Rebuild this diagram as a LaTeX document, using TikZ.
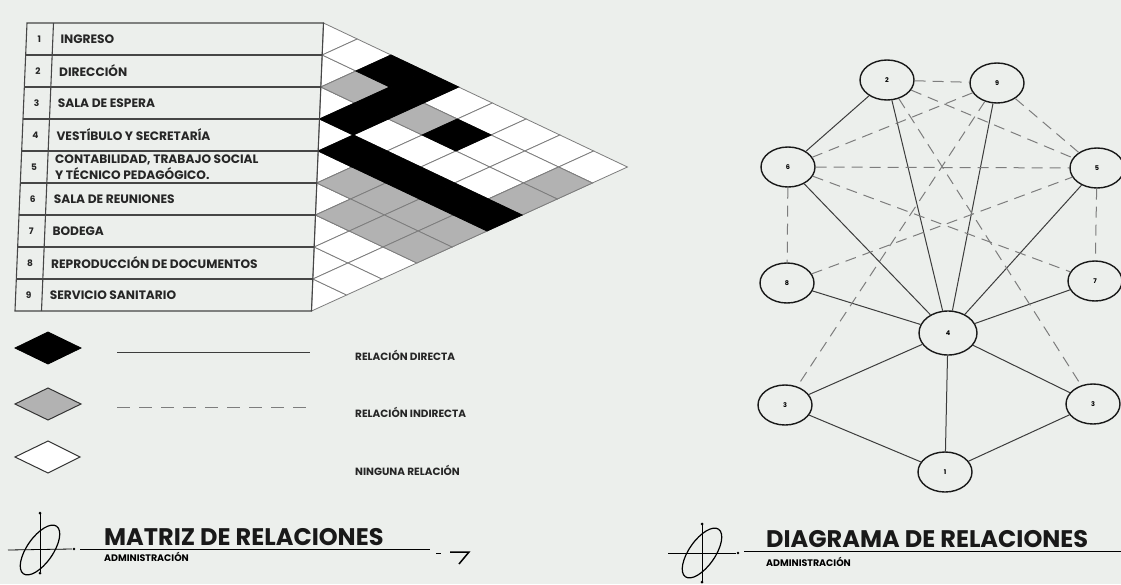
\documentclass[tikz,border=0pt]{standalone}
\usepackage{fontspec}
\setmainfont{Poppins}
\usetikzlibrary{shapes.geometric}
\definecolor{bgc}{RGB}{236,239,236}
\definecolor{gridc}{RGB}{125,125,125}
\definecolor{hatchc}{RGB}{178,178,178}
\definecolor{tabc}{RGB}{70,70,70}
\definecolor{linec}{RGB}{60,60,60}
\definecolor{dashc}{RGB}{125,125,125}
\begin{document}
\begin{tikzpicture}[x=1pt,y=-1pt,
  rowtxt/.style={anchor=west,font=\fontsize{12.2}{16}\selectfont\bfseries,inner sep=0pt,align=left,text=black!85},
  rownum/.style={font=\fontsize{9}{9}\selectfont\bfseries,inner sep=0pt,text=black!85},
  rel/.style={ellipse,draw=black!90,line width=1.4pt,minimum width=54pt,minimum height=40pt,inner sep=0pt,font=\fontsize{6.5}{6.5}\selectfont\bfseries},
  relbig/.style={rel,minimum width=58pt,minimum height=44pt},
  direct/.style={draw=linec,line width=1pt},
  indirect/.style={draw=dashc,line width=1pt,dash pattern=on 11pt off 7pt},
  legtxt/.style={anchor=west,font=\fontsize{10.5}{11}\selectfont\bfseries,inner sep=0pt,text=black!85},
  titletxt/.style={anchor=base west,font=\fontsize{24}{26}\selectfont\bfseries,inner sep=0pt,text=black!90},
  subtxt/.style={anchor=west,font=\fontsize{9.5}{10}\selectfont\bfseries,inner sep=0pt}
]
\useasboundingbox (0,0) rectangle (1121,584);
\fill[bgc] (0,0) rectangle (1121,584);
\def\mxo{317.5}\def\mty{23}\def\mrh{32}\def\mdx{34.44}
% ---------- matrix (slightly skewed like the photo) ----------
\begin{scope}[cm={1,0,0.0417,1,(6.96,0)}]
  \foreach \i in {1,...,9}{
    \draw[gridc,line width=0.8pt,fill=white] (\mxo,{\mty+(\i-1)*\mrh}) -- ++(\mdx,\mrh/2) -- ++(-\mdx,\mrh/2) -- cycle;
  }
  \foreach \i in {1,...,8}{
    \pgfmathtruncatemacro\js{\i+1}
    \foreach \j in {\js,...,9}{
      \draw[gridc,line width=0.8pt,fill=white] ({\mxo+(\j-\i-1)*\mdx},{\mty+(\i+\j-1)*\mrh/2}) -- ++(\mdx,-\mrh/2) -- ++(\mdx,\mrh/2) -- ++(-\mdx,\mrh/2) -- cycle;
    }
  }
  \foreach \i/\j in {2/3,2/5,5/6,5/7,5/8,5/9,6/7,6/8,6/9,2/9,3/9}{
    \draw[gridc,line width=0.8pt,fill=hatchc] ({\mxo+(\j-\i-1)*\mdx},{\mty+(\i+\j-1)*\mrh/2}) -- ++(\mdx,-\mrh/2) -- ++(\mdx,\mrh/2) -- ++(-\mdx,\mrh/2) -- cycle;
  }
  \foreach \i/\j in {1/3,1/4,2/4,3/4,2/6,4/5,4/6,4/7,4/8,4/9}{
    \draw[black,line width=0.8pt,fill=black] ({\mxo+(\j-\i-1)*\mdx},{\mty+(\i+\j-1)*\mrh/2}) -- ++(\mdx,-\mrh/2) -- ++(\mdx,\mrh/2) -- ++(-\mdx,\mrh/2) -- cycle;
  }
  % table
  \draw[tabc,line width=1.1pt] (21,\mty) rectangle (\mxo,{\mty+9*\mrh});
  \draw[tabc,line width=1.1pt] (47.5,\mty) -- (47.5,{\mty+9*\mrh});
  \foreach \k in {1,...,8}{
    \draw[tabc,line width=1.1pt] (21,{\mty+\k*\mrh}) -- (\mxo,{\mty+\k*\mrh});
  }
  \foreach \k in {1,...,9}{
    \node[rownum] (num\k) at (34,{\mty+(\k-0.5)*\mrh}) {\k};
  }
  \node[rowtxt] (r1) at (55,{\mty+0.5*\mrh}) {INGRESO};
  \node[rowtxt] (r2) at (55,{\mty+1.5*\mrh}) {DIRECCIÓN};
  \node[rowtxt] (r3) at (55,{\mty+2.5*\mrh}) {SALA DE ESPERA};
  \node[rowtxt] (r4) at (55,{\mty+3.5*\mrh}) {VESTÍBULO Y SECRETARÍA};
  \node[rowtxt] (r5) at (55,{\mty+4.5*\mrh}) {CONTABILIDAD, TRABAJO SOCIAL\\Y TÉCNICO PEDAGÓGICO.};
  \node[rowtxt] (r6) at (55,{\mty+5.5*\mrh}) {SALA DE REUNIONES};
  \node[rowtxt] (r7) at (55,{\mty+6.5*\mrh}) {BODEGA};
  \node[rowtxt] (r8) at (55,{\mty+7.5*\mrh}) {REPRODUCCIÓN DE DOCUMENTOS};
  \node[rowtxt] (r9) at (55,{\mty+8.5*\mrh}) {SERVICIO SANITARIO};
\end{scope}
% ---------- legend ----------
\draw[black,line width=0.8pt,fill=black] (15,348) -- (48,332) -- (81,348) -- (48,364) -- cycle;
\draw[black!80,line width=1pt,fill=hatchc] (15,404) -- (48,388) -- (81,404) -- (48,420) -- cycle;
\draw[black!80,line width=1pt,fill=white] (15,457) -- (48,441) -- (80,457) -- (48,473) -- cycle;
\coordinate (ls1) at (117,352); \coordinate (ls2) at (310,352);
\coordinate (ld1) at (117,407); \coordinate (ld2) at (307,407);
\draw[linec,line width=1pt] (ls1) -- (ls2);
\draw[dashc,line width=1pt,dash pattern=on 13pt off 9pt] (ld1) -- (ld2);
\node[legtxt] (l1) at (355,355) {RELACIÓN DIRECTA};
\node[legtxt] (l2) at (355,412) {RELACIÓN INDIRECTA};
\node[legtxt] (l3) at (355,470) {NINGUNA RELACIÓN};
% ---------- relations diagram ----------
\node[rel] (n2) at (887,80) {2};
\node[rel] (n9) at (997,83) {9};
\node[rel] (n6) at (788,167) {6};
\node[rel] (n5) at (1097,168) {5};
\node[rel] (n8) at (787,283) {8};
\node[rel] (n7) at (1095,281) {7};
\node[relbig] (n4) at (948,333) {4};
\node[rel] (n3a) at (785,405) {3};
\node[rel] (n3b) at (1093,404) {3};
\node[rel] (n1) at (945,472) {1};
\foreach \a/\b in {n2/n6,n2/n4,n9/n4,n6/n4,n5/n4,n8/n4,n7/n4,n3a/n4,n3b/n4,n1/n4,n3a/n1,n3b/n1}{
  \draw[direct] (\a) -- (\b);
}
\foreach \a/\b in {n2/n9,n2/n5,n2/n3b,n9/n6,n9/n3a,n9/n5,n6/n5,n6/n7,n6/n8,n5/n7,n8/n5}{
  \draw[indirect] (\a) -- (\b);
}
% ---------- titles ----------
\draw[black,line width=1.2pt,rotate around={55:(40,550)}] (40,550) ellipse [x radius=29,y radius=13];
\draw[black,line width=0.8pt] (40,514) -- (40,572);
\draw[black,line width=0.8pt] (8,550) -- (72,549);
\fill (40,513) circle (1.5); \fill (40,573) circle (1.5); \fill (74,549) circle (1.3);
\draw[black,line width=1pt] (80,549) -- (430,549);
\draw[black,line width=1pt] (436,553) -- (441,553);
\draw[black,line width=1.5pt] (450,552) -- (469,552) -- (459,564);
\node[titletxt] (t1) at (104,545) {MATRIZ DE RELACIONES};
\node[subtxt] (s1) at (104,557) {ADMINISTRACIÓN};
\draw[black,line width=1.2pt,rotate around={55:(702,553)}] (702,553) ellipse [x radius=29,y radius=13];
\draw[black,line width=0.8pt] (702,525) -- (702,582);
\draw[black,line width=0.8pt] (668,553) -- (736,553);
\fill (702,524) circle (1.5); \fill (702,582) circle (1.5); \fill (738,553) circle (1.3);
\draw[black,line width=1pt] (744,551) -- (1121,551);
\node[titletxt] (t2) at (766,547) {DIAGRAMA DE RELACIONES};
\node[subtxt] (s2) at (766,562) {ADMINISTRACIÓN};
\end{tikzpicture}
\end{document}
